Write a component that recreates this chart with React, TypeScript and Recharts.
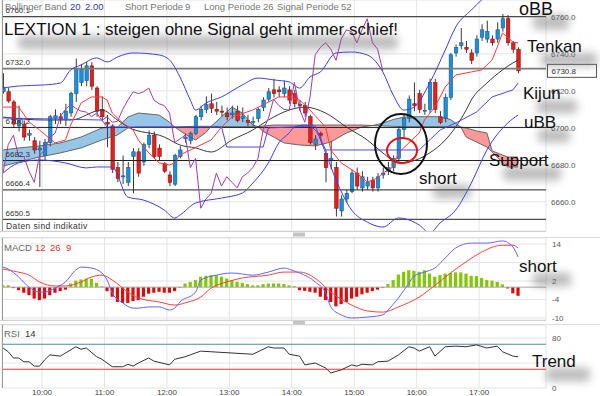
import React from 'react';
import { ComposedChart, Bar, Line, Area, XAxis, YAxis, CartesianGrid, ReferenceLine } from 'recharts';

// ---- data -------------------------------------------------------------
const firstCandleMinute = 562.5; // minutes after midnight of candle #0
const candleStepMinutes = 5;

const candleOpen = [
  6719.5, 6719.5, 6714, 6701, 6702, 6696, 6693, 6688, 6685, 6692,
  6705, 6706, 6705, 6708, 6718.5, 6724.5, 6725.5, 6733.5, 6721.5, 6710,
  6703, 6701, 6678.5, 6673.5, 6670.5, 6684.5, 6687, 6681.5, 6691, 6696,
  6689, 6680.5, 6674.5, 6669.5, 6684.5, 6694, 6693, 6697, 6706, 6710,
  6713, 6710, 6709, 6708, 6707, 6709, 6705, 6704, 6703, 6705,
  6711, 6715.5, 6720.5, 6720.5, 6718.5, 6720.5, 6718.5, 6712.5, 6712, 6706,
  6691, 6697, 6686, 6682.5, 6678.5, 6655, 6661.5, 6665.5, 6675.5, 6667.5,
  6668.5, 6671.5, 6667.5, 6674.5, 6676.5, 6678.5, 6683.5, 6699, 6705, 6713,
  6718.5, 6709, 6710, 6724.5, 6706, 6705, 6716.5, 6740.5, 6744.5, 6743.5,
  6740.5, 6740.5, 6749, 6748, 6748, 6748, 6754, 6759, 6746, 6742.5,
];
const candleHigh = [
  6729.5, 6721.5, 6715, 6712, 6704, 6699, 6695, 6693, 6694, 6707,
  6710, 6708, 6713, 6719.5, 6737.5, 6734.5, 6735.5, 6735.5, 6722.5, 6717,
  6707, 6702, 6681.5, 6685, 6681.5, 6689, 6689, 6692, 6698.5, 6698,
  6691, 6681.5, 6676.5, 6686, 6690, 6697, 6698, 6707, 6712, 6717,
  6718.5, 6714, 6712, 6711, 6712, 6712, 6711, 6707, 6706, 6711,
  6716.5, 6721.5, 6726.5, 6722.5, 6725.5, 6722.5, 6720.5, 6715, 6714, 6707,
  6696, 6698, 6688, 6693, 6681.5, 6663.5, 6666.5, 6677.5, 6678.5, 6676.5,
  6673.5, 6673.5, 6675.5, 6678.5, 6681.5, 6685, 6701, 6707, 6717.5, 6724.5,
  6720.5, 6713, 6726.5, 6726.5, 6709, 6718.5, 6740.5, 6745, 6754, 6747,
  6742.5, 6750, 6756, 6758, 6750, 6757, 6761.5, 6761, 6747, 6743.5,
];
const candleLow = [
  6718.5, 6713.5, 6700, 6698, 6693, 6693, 6686, 6668, 6682.5, 6690,
  6702, 6702, 6701, 6706, 6714, 6722.5, 6722.5, 6720.5, 6706, 6704,
  6689.5, 6675.5, 6670.5, 6669.5, 6668.5, 6664.5, 6673.5, 6679.5, 6689, 6683.5,
  6682.5, 6675.5, 6668.5, 6668.5, 6683.5, 6692, 6691, 6696, 6704, 6708,
  6708, 6707, 6706, 6704, 6705, 6703, 6703, 6701, 6701, 6703,
  6709, 6714, 6716.5, 6716.5, 6716.5, 6713, 6711, 6709, 6706, 6691,
  6688, 6693, 6670.5, 6677.5, 6652, 6652, 6659.5, 6664.5, 6666.5, 6665.5,
  6666.5, 6665.5, 6665.5, 6672.5, 6674.5, 6676.5, 6681.5, 6695, 6703, 6709,
  6708, 6707, 6708, 6708, 6702, 6703, 6715, 6738.5, 6742.5, 6740.5,
  6734.5, 6738.5, 6747, 6746, 6744.5, 6746, 6752, 6744.5, 6740.5, 6729.5,
];
const candleClose = [
  6722, 6714.5, 6702, 6704, 6695, 6697, 6688, 6689, 6692, 6706,
  6706.5, 6704.5, 6709, 6718.5, 6731.5, 6731.5, 6733.5, 6722.5, 6709, 6706,
  6702, 6677.5, 6672.5, 6674, 6678.5, 6687, 6675.5, 6691, 6696, 6684.5,
  6684.5, 6676.5, 6670.5, 6685, 6688, 6695, 6697, 6706, 6710, 6712.5,
  6710.5, 6709, 6708.5, 6706, 6708, 6704, 6706, 6703, 6703.5, 6710,
  6715, 6719.5, 6718.5, 6719.5, 6721.5, 6715, 6713, 6712, 6708, 6692,
  6694, 6696, 6678.5, 6683.5, 6656.5, 6661.5, 6664.5, 6675.5, 6668.5, 6673.5,
  6670.5, 6667.5, 6673.5, 6675.5, 6678.5, 6683.5, 6699, 6705, 6715.5, 6712,
  6710, 6709.5, 6724.5, 6710, 6703, 6716.5, 6739.5, 6743.5, 6746, 6742.5,
  6736.5, 6748, 6753, 6752, 6746, 6753, 6759, 6746, 6742.5, 6730.8,
];

// [candle index, value]
const bollingerUpper: [number, number][] = [
  [0, 6721.5], [3, 6722.6], [8, 6723.2], [11, 6724.2], [13, 6731.3], [15, 6734], [18, 6737.8], [20, 6735.6],
  [22, 6738.3], [25, 6740.5], [30, 6739.4], [32, 6736.7], [34, 6727.5], [36, 6715], [37, 6709.6], [39, 6713.4],
  [42, 6716.7], [46, 6723.2], [49, 6726.9], [52, 6725.9], [55, 6724.8], [57, 6721.5], [59, 6727.5], [61, 6730.2],
  [64, 6740.5], [67, 6741], [70, 6739.4], [73, 6730.2], [75, 6717.7], [77, 6709.6], [79, 6711.2], [82, 6724.2],
  [85, 6742.1], [87, 6754.5], [90, 6763.7], [92, 6769.1], [96, 6774], [99, 6777],
];
const bollingerMiddle: [number, number][] = [
  [0, 6705.8], [8, 6704.2], [13, 6704.2], [19, 6709.6], [22, 6704.2], [24, 6700.4], [31, 6695], [34, 6690.7],
  [37, 6689.1], [40, 6686.9], [44, 6693.4], [48, 6698.8], [51, 6704.2], [55, 6709.6], [58, 6711.2], [62, 6708],
  [66, 6700.4], [70, 6693.4], [73, 6686.4], [76, 6681], [78, 6681.5], [82, 6686.4], [85, 6693.4], [87, 6700.4],
  [89, 6709.6], [90, 6715], [93, 6724.2], [96, 6731.3], [98, 6735.1], [99, 6736.7],
];
const bollingerLower: [number, number][] = [
  [0, 6675.5], [3, 6681], [7, 6682.6], [12, 6681], [16, 6678.3], [18, 6678.8], [21, 6678.8], [24, 6662.5],
  [27, 6660.9], [31, 6655.5], [33, 6651.2], [34, 6652.8], [37, 6659.3], [42, 6662], [46, 6664.7], [48, 6670.1],
  [51, 6681], [53, 6691.8], [55, 6697.2], [56, 6700.4], [58, 6701.5], [60, 6698.8], [62, 6686.4], [64, 6671.8],
  [67, 6655.5], [70, 6649], [73, 6646.3], [76, 6651.2], [80, 6647.4], [82, 6643.1], [84, 6648.5], [87, 6655.5],
  [90, 6670.1], [93, 6688], [97, 6702.6], [99, 6706.9],
];
const tenkanSen: [number, number][] = [
  [0, 6711.2], [3, 6711.2], [5, 6703.2], [7, 6698.8], [10, 6691.8], [12, 6693.4], [13, 6701.5], [15, 6713.4],
  [17, 6716.7], [19, 6716.7], [20, 6715], [21, 6708], [23, 6702.6], [25, 6698.8], [26, 6693.4], [28, 6686.4],
  [30, 6681], [32, 6679.9], [33, 6681], [34, 6685.3], [36, 6688], [40, 6693.4], [42, 6700.4], [44, 6705.8],
  [48, 6709.6], [51, 6713.9], [53, 6716.7], [55, 6716.7], [57, 6715], [59, 6709.6], [62, 6700.4], [63, 6688],
  [65, 6681], [68, 6675.5], [70, 6670.7], [72, 6672.8], [73, 6675.5], [75, 6678.8], [76, 6686.4], [78, 6691.8],
  [80, 6697.2], [81, 6704.2], [83, 6711.2], [85, 6722.1], [87, 6728.6], [90, 6730.2], [92, 6731.3], [94, 6736.7],
  [95, 6743.7], [96, 6751.3], [98, 6746.4], [99, 6745.9],
];
const kijunSen: [number, number][] = [
  [0, 6705.3], [19, 6704.2], [20, 6700.4], [42, 6700.4], [43, 6689.6], [50, 6689.6], [51, 6699.9], [60, 6701],
  [62, 6688], [80, 6688], [84, 6698.8], [87, 6702.6], [91, 6708.5], [94, 6716.7], [98, 6720.5], [99, 6724.2],
];
const cloudIndex = [
  0, 3, 7, 11, 15, 19, 22, 24, 26, 30, 32, 33, 35, 37, 39, 40, 42, 44, 46, 48, 49, 50,
  52, 54, 57, 60, 63, 66, 69, 71, 73, 75, 77, 80, 84, 86, 88, 89, 91, 93, 94, 96, 97, 99,
];
const senkouA = [
  6688, 6689.1, 6690.2, 6691.8, 6695, 6699.9, 6700.4, 6705.8, 6708, 6706.9, 6703, 6700.4,
  6696.5, 6693.4, 6697.5, 6700.8, 6706, 6711.2, 6708, 6701.5, 6700.6, 6698,
  6695, 6691.8, 6690.7, 6690.2, 6692.3, 6697.2, 6700.5, 6701.2, 6702.5, 6704.5,
  6705.8, 6706, 6706, 6704.5, 6700.4, 6695, 6692.3, 6689.6, 6687, 6681, 6678.8, 6678.8,
];
const senkouB = [
  6679.3, 6681.5, 6684.2, 6686.4, 6689.1, 6693.4, 6696.1, 6699.9, 6700.4, 6700.4, 6700.4, 6700.4,
  6700.6, 6700.8, 6700.8, 6700.8, 6700.6, 6700.6, 6700.6, 6700.6, 6700.6, 6701,
  6701.5, 6701.5, 6701.5, 6701.5, 6701.5, 6701.5, 6701.5, 6701.2, 6701, 6700.8,
  6700.6, 6700.6, 6700.6, 6700.6, 6700.4, 6699.9, 6698.3, 6697.2, 6687.5, 6685.3, 6684.2, 6684.2,
];
const chikouShift = 26;

const macdHistogram = [
  0.6, 0.6, -0.3, -1, -1.8, -2.6, -3.7, -4.2, -3.7, -2.6,
  -1.8, -1.3, -0.8, 1.2, 2.1, 2.5, 2.8, 2.7, 1.4, 0.3,
  -1.3, -3.1, -4.8, -5.1, -5.1, -4.5, -4.2, -3.1, -2.1, -1.8,
  -1.5, -1.8, -1.8, -1.3, -0.2, 1.2, 1.7, 2.3, 3.4, 3.7,
  3.9, 3.9, 3.4, 2.8, 2.3, 1.7, 1.4, 1.0, 0.6, 0.6,
  1.0, 1.2, 1.2, 1.2, 1.0, 0.6, 0.3, -1.0, -1.2, -1.5,
  -1.8, -3.1, -4.2, -4.8, -6.2, -5.5, -4.8, -3.7, -3.1, -2.3,
  -1.8, -1.3, -0.8, -0.2, 1.0, 2.3, 4.1, 5.0, 5.5, 5.3,
  5.0, 5.5, 4.4, 3.4, 3.9, 4.4, 4.6, 4.8, 4.8, 4.4,
  3.7, 3.6, 3.0, 2.3, 2.1, 1.7, 0.9, -0.4, -2.0, -2.8,
];
const macdLine: [number, number][] = [
  [0, 6.5], [1, 5.9], [3, 3.3], [5, 0], [7, -1.6], [8, -1.6], [10, -0.3], [12, 1.7], [14, 5.6], [15, 6.5],
  [17, 6.2], [19, 4.6], [20, 2.3], [21, -1.9], [23, -5.1], [25, -6.8], [26, -6.8], [28, -6.4], [30, -6.4],
  [32, -7.4], [33, -6.8], [34, -4.8], [37, -1.6], [38, 2.3], [41, 3.9], [44, 4.6], [48, 3.9], [51, 4.9],
  [54, 6.2], [56, 5.2], [57, 4.6], [60, 1.7], [62, -1.9], [63, -6.4], [65, -9.0], [67, -10], [70, -9.7],
  [73, -9.0], [74, -7.4], [76, -3.5], [78, 1.3], [79, 3.6], [81, 4.9], [83, 6.2], [85, 9.5], [87, 12.7],
  [90, 14.3], [93, 14.3], [96, 15], [98, 13], [99, 9.8],
];
const macdSignal: [number, number][] = [
  [0, 5.9], [2, 5.2], [5, 3.9], [7, 1.7], [10, 0.4], [12, 0.4], [15, 1.7], [17, 3.3], [19, 3.9], [21, 2.3],
  [24, -1.6], [26, -3.5], [30, -4.8], [33, -5.8], [35, -5.1], [38, -3.2], [40, -0.3], [43, 1.7], [46, 3.0],
  [51, 3.9], [54, 4.9], [57, 4.9], [60, 2.9], [63, -1.6], [67, -5.8], [70, -7.7], [73, -8.1], [76, -6.4],
  [80, -3.2], [83, 0.6], [86, 4.6], [89, 8.2], [92, 11.4], [96, 13.6], [98, 13.6], [99, 12.7],
];
const rsiLine: [number, number][] = [
  [0, 64], [1, 58], [2, 48], [3, 48], [4, 42], [5, 42], [6, 35], [7, 35], [8, 45], [9, 53],
  [11, 51], [12, 56], [14, 66], [15, 62], [16, 64], [18, 50], [19, 46], [21, 34], [23, 34], [24, 38],
  [25, 35], [26, 40], [28, 48], [29, 43], [32, 37], [33, 46], [35, 50], [36, 53], [38, 59], [40, 58],
  [44, 56], [48, 54], [51, 66], [52, 64], [54, 64], [55, 54], [57, 51], [58, 37], [60, 40], [62, 32],
  [63, 24], [65, 29], [67, 37], [68, 35], [69, 38], [71, 37], [72, 42], [74, 43], [76, 53], [78, 66],
  [79, 64], [80, 59], [82, 66], [83, 51], [85, 66], [87, 67], [89, 66], [91, 69], [93, 64], [95, 67],
  [96, 58], [98, 51], [99, 50],
];

const hourTicks = [600, 660, 720, 780, 840, 900, 960, 1020];
const priceTicks = [6660, 6680, 6700, 6720, 6740, 6760];
const priceLevels = [6760.1, 6732.0, 6700.2, 6682.3, 6666.4, 6650.5];
const macdTicks = [14, 2, -4, -10];
const rsiTicks = [0, 80];
const rsiUpper = 70;
const rsiLower = 30;

// ---- table built from the arrays ---------------------------------------
type Row = Record<string, any>;
const rows: Row[] = candleOpen.map((o, k) => ({
  t: firstCandleMinute + k * candleStepMinutes,
  o,
  h: candleHigh[k],
  l: candleLow[k],
  c: candleClose[k],
  range: [candleLow[k], candleHigh[k]],
  hist: macdHistogram[k],
}));
const place = (key: string, pairs: [number, number][]) => {
  pairs.forEach(([k, v]) => {
    rows[k][key] = v;
  });
};
place('bbU', bollingerUpper);
place('bbM', bollingerMiddle);
place('bbL', bollingerLower);
place('tenkan', tenkanSen);
place('kijun', kijunSen);
place('macd', macdLine);
place('signal', macdSignal);
place('rsi', rsiLine);
rows.forEach((r, k) => {
  if (k + chikouShift < candleClose.length) r.chikou = candleClose[k + chikouShift];
});
cloudIndex.forEach((k, i) => {
  rows[k].spanA = senkouA[i];
  rows[k].spanB = senkouB[i];
});

const cloudPieces: { key: string; bullish: boolean }[] = [];
(() => {
  let current: number[] = [];
  let sign = 0;
  const flush = () => {
    if (current.length > 1) {
      const key = `cloud${cloudPieces.length}`;
      current.forEach((i) => {
        rows[cloudIndex[i]][key] = [Math.min(senkouA[i], senkouB[i]), Math.max(senkouA[i], senkouB[i])];
      });
      cloudPieces.push({ key, bullish: sign >= 0 });
    }
  };
  cloudIndex.forEach((_, i) => {
    const s = Math.sign(senkouA[i] - senkouB[i]);
    current.push(i);
    if (s !== 0 && sign === 0) sign = s;
    if (s === 0 && current.length > 1) {
      flush();
      current = [i];
      sign = 0;
    }
  });
  flush();
})();

const lastClose = candleClose[candleClose.length - 1];

// ---- shapes -------------------------------------------------------------
const CandleShape = (props: any) => {
  const { x, y, width, height, payload } = props;
  if (!payload || x == null || y == null || height == null) return null;
  const top = Math.min(y, y + height);
  const span = Math.abs(height);
  const ratio = payload.h > payload.l ? span / (payload.h - payload.l) : 0;
  const yOf = (v: number) => top + (payload.h - v) * ratio;
  const up = payload.c >= payload.o;
  const cx = x + width / 2;
  const bTop = yOf(Math.max(payload.o, payload.c));
  const bH = Math.max(1, yOf(Math.min(payload.o, payload.c)) - bTop);
  return (
    <g>
      <line x1={cx} x2={cx} y1={top} y2={top + span} stroke="#3a3a3a" strokeWidth={1} />
      <rect
        x={cx - 1.75}
        y={bTop}
        width={3.5}
        height={bH}
        fill={up ? '#1d8fd8' : '#e3201b'}
        stroke={up ? '#125f94' : '#8e1411'}
        strokeWidth={0.6}
      />
    </g>
  );
};

const HistShape = (props: any) => {
  const { x, y, width, height, payload } = props;
  if (!payload || x == null || y == null || height == null) return null;
  const top = Math.min(y, y + height);
  return (
    <rect
      x={x + width / 2 - 1.6}
      y={top}
      width={3.2}
      height={Math.abs(height)}
      fill={payload.hist >= 0 ? '#82c800' : '#dd0a0a'}
    />
  );
};

const PriceTag = (props: any) => {
  const vb = props.viewBox || {};
  const x = (vb.x ?? 0) + (vb.width ?? 0) + 1.5;
  const y = vb.y ?? 0;
  return (
    <g>
      <rect x={x} y={y - 6.5} width={49} height={13} fill="#fff" stroke="#555" strokeWidth={1} />
      <text x={x + 4} y={y + 3} fontSize={8} fill="#333">
        {lastClose.toFixed(1)}
      </text>
    </g>
  );
};

const X_DOMAIN: [number, number] = [561.5, 1084.3];
const FONT = "'Liberation Sans', Arial, Helvetica, sans-serif";
const tickStyle = { fontSize: 8, fill: '#555', fontFamily: FONT };

// annotation text with a soft, offset grey blur behind it (drawn as a blurred box, not a second text)
const Note = ({ x, y, size, w, children }: { x: number; y: number; size: number; w: number; children: string }) => (
  <g>
    <rect
      x={x + 14}
      y={y - size * 0.72 + 13}
      width={w}
      height={size * 0.8}
      rx={4}
      fill="#6a6a6a"
      opacity={0.45}
      filter="url(#soft)"
    />
    <text x={x} y={y} fontSize={size} fill="#111">
      {children}
    </text>
  </g>
);

export default function App() {
  const lineCommon = { dot: false, activeDot: false, isAnimationActive: false, connectNulls: true } as const;
  return (
    <div
      style={{
        position: 'absolute',
        left: 0,
        top: 0,
        width: 600,
        height: 396,
        background: '#fff',
        overflow: 'hidden',
        fontFamily: FONT,
      }}
    >
      {/* ---------------- main price panel ---------------- */}
      <div style={{ position: 'absolute', left: 0, top: 0 }}>
        <ComposedChart width={600} height={231} data={rows} margin={{ top: 0, right: 0, bottom: 0, left: 2 }}>
          <CartesianGrid stroke="#e4e4e4" />
          <XAxis dataKey="t" type="number" domain={X_DOMAIN} ticks={hourTicks} hide allowDataOverflow />
          <YAxis
            orientation="right"
            width={54}
            domain={[6644.17, 6769.13]}
            ticks={priceTicks}
            interval={0}
            allowDataOverflow
            tickFormatter={(v: number) => v.toFixed(1)}
            tick={tickStyle}
            axisLine={false}
            tickLine={false}
            tickSize={0}
            tickMargin={5}
          />
          {cloudPieces.map((p) => (
            <Area
              key={p.key}
              dataKey={(d: Row) => d[p.key] ?? [null, null]}
              type="linear"
              stroke="none"
              fill={p.bullish ? '#8cbfe2' : '#ff8d8d'}
              fillOpacity={0.9}
              {...lineCommon}
            />
          ))}
          <Line dataKey="spanA" type="linear" stroke="#5a5a5a" strokeWidth={0.9} {...lineCommon} />
          <Line dataKey="spanB" type="linear" stroke="#5a5a5a" strokeWidth={0.9} {...lineCommon} />
          {priceLevels.map((lv) => (
            <ReferenceLine
              key={lv}
              y={lv}
              stroke={lv === 6732.0 ? '#7a7a7a' : '#222'}
              strokeWidth={lv === 6732.0 ? 1.6 : 1}
              label={{ value: lv.toFixed(1), position: 'insideBottomLeft', offset: 3.5, fontSize: 8, fill: '#333' }}
            />
          ))}
          <ReferenceLine y={lastClose} stroke="none" label={(p: any) => <PriceTag {...p} />} />
          <Line dataKey="bbU" type="monotone" stroke="#3d3df2" strokeWidth={1} {...lineCommon} />
          <Line dataKey="bbL" type="monotone" stroke="#3d3df2" strokeWidth={1} {...lineCommon} />
          <Line dataKey="bbM" type="monotone" stroke="#3a3a3a" strokeWidth={1} {...lineCommon} />
          <Line dataKey="kijun" type="linear" stroke="#4848ff" strokeWidth={1} {...lineCommon} />
          <Line dataKey="chikou" type="linear" stroke="#a03cb0" strokeWidth={1} {...lineCommon} />
          <Line dataKey="tenkan" type="linear" stroke="#ff3a3a" strokeWidth={1} {...lineCommon} />
          <Bar dataKey="range" shape={CandleShape} barSize={4} isAnimationActive={false} />
        </ComposedChart>
      </div>

      {/* ---------------- MACD panel ---------------- */}
      <div style={{ position: 'absolute', left: 0, top: 238 }}>
        <ComposedChart width={600} height={86} data={rows} margin={{ top: 0, right: 0, bottom: 4, left: 2 }}>
          <CartesianGrid stroke="#e4e4e4" />
          <XAxis dataKey="t" type="number" domain={X_DOMAIN} ticks={hourTicks} hide allowDataOverflow />
          <YAxis
            orientation="right"
            width={54}
            domain={[-10.65, 15.95]}
            ticks={macdTicks}
            interval={0}
            allowDataOverflow
            tick={tickStyle}
            axisLine={false}
            tickLine={false}
            tickSize={0}
            tickMargin={6}
          />
          <ReferenceLine y={8} stroke="#e4e4e4" />
          <ReferenceLine y={0} stroke="#a8a8a8" />
          <Bar dataKey="hist" shape={HistShape} barSize={3} isAnimationActive={false} />
          <Line dataKey="signal" type="monotone" stroke="#ff4040" strokeWidth={1} {...lineCommon} />
          <Line dataKey="macd" type="monotone" stroke="#6464ff" strokeWidth={1} {...lineCommon} />
        </ComposedChart>
      </div>

      {/* ---------------- RSI panel ---------------- */}
      <div style={{ position: 'absolute', left: 0, top: 325 }}>
        <ComposedChart width={600} height={71} data={rows} margin={{ top: 0, right: 0, bottom: 0, left: 2 }}>
          <CartesianGrid stroke="#e4e4e4" />
          <XAxis
            dataKey="t"
            type="number"
            domain={X_DOMAIN}
            ticks={hourTicks}
            interval={0}
            allowDataOverflow
            height={8}
            tickFormatter={(t: number) => `${Math.round(t / 60)}:00`}
            tick={{ fontSize: 8, fill: '#444', fontFamily: FONT }}
            axisLine={false}
            tickLine={false}
            tickSize={0}
            tickMargin={1}
          />
          <YAxis
            orientation="right"
            width={54}
            domain={[0, 100.8]}
            ticks={rsiTicks}
            interval={0}
            allowDataOverflow
            tick={tickStyle}
            axisLine={false}
            tickLine={false}
            tickSize={0}
            tickMargin={6}
          />
          <ReferenceLine y={40} stroke="#e4e4e4" />
          <ReferenceLine y={rsiUpper} stroke="#4a8ab0" strokeWidth={1} />
          <ReferenceLine y={rsiLower} stroke="#ff3434" strokeWidth={1} />
          <Line dataKey="rsi" type="linear" stroke="#333" strokeWidth={1} {...lineCommon} />
        </ComposedChart>
      </div>

      {/* ---------------- overlay: frames, labels, annotations ---------------- */}
      <svg
        width={600}
        height={396}
        style={{ position: 'absolute', left: 0, top: 0, pointerEvents: 'none' }}
        fontFamily={FONT}
      >
        <defs>
          <filter id="soft" x="-40%" y="-100%" width="180%" height="300%">
            <feGaussianBlur stdDeviation="4" />
          </filter>
        </defs>
        <line x1={2.5} y1={0} x2={2.5} y2={231} stroke="#999" />
        <line x1={2.5} y1={238} x2={2.5} y2={320} stroke="#999" />
        <line x1={2.5} y1={325} x2={2.5} y2={388} stroke="#999" />
        <line x1={0} y1={231.5} x2={546} y2={231.5} stroke="#d0d0d0" />
        <line x1={0} y1={237.5} x2={600} y2={237.5} stroke="#dcdcdc" />
        <rect x={293} y={232.5} width={12} height={4} fill="#c4c4c4" />
        <line x1={0} y1={320.5} x2={546} y2={320.5} stroke="#d0d0d0" />
        <line x1={0} y1={324.5} x2={600} y2={324.5} stroke="#dcdcdc" />
        <rect x={293} y={321} width={12} height={3.5} fill="#c4c4c4" />

        <text x={5} y={10} fontSize={9.5} fill="#777">
          <tspan x={5}>Bollinger Band</tspan>
          <tspan x={70} fill="#3434d8">20</tspan>
          <tspan x={85} fill="#3434d8">2.00</tspan>
          <tspan x={125}>Short Periode</tspan>
          <tspan x={185}>9</tspan>
          <tspan x={204}>Long Periode</tspan>
          <tspan x={263}>26</tspan>
          <tspan x={277}>Signal Periode</tspan>
          <tspan x={341}>52</tspan>
        </text>
        <text x={6} y={228.5} fontSize={8.5} fill="#333" letterSpacing={0.4}>
          Daten sind indikativ
        </text>
        <text x={4} y={251} fontSize={9.5} fill="#666">
          <tspan x={4}>MACD</tspan>
          <tspan x={35} fill="#e03030">12</tspan>
          <tspan x={50} fill="#e03030">26</tspan>
          <tspan x={66} fill="#e03030">9</tspan>
        </text>
        <text x={4} y={337} fontSize={9.5} fill="#666">
          <tspan x={4}>RSI</tspan>
          <tspan x={25} fill="#333">14</tspan>
        </text>

        <ellipse cx={401} cy={144} rx={26} ry={30} fill="none" stroke="#111" strokeWidth={2} />
        <ellipse cx={402} cy={150.5} rx={15} ry={12.5} fill="none" stroke="#e81010" strokeWidth={2} />

        <Note x={4} y={35} size={17} w={380}>LEXTION 1 : steigen ohne Signal geht immer schief!</Note>
        <Note x={519} y={15} size={18} w={36}>oBB</Note>
        <Note x={527} y={52} size={17} w={56}>Tenkan</Note>
        <Note x={523} y={99} size={17} w={40}>Kijun</Note>
        <Note x={524} y={128} size={17} w={32}>uBB</Note>
        <Note x={489} y={166} size={17} w={58}>Support</Note>
        <Note x={419} y={184} size={17} w={38}>short</Note>
        <Note x={519} y={272} size={17} w={38}>short</Note>
        <Note x={532} y={367} size={17} w={44}>Trend</Note>
      </svg>
    </div>
  );
}
